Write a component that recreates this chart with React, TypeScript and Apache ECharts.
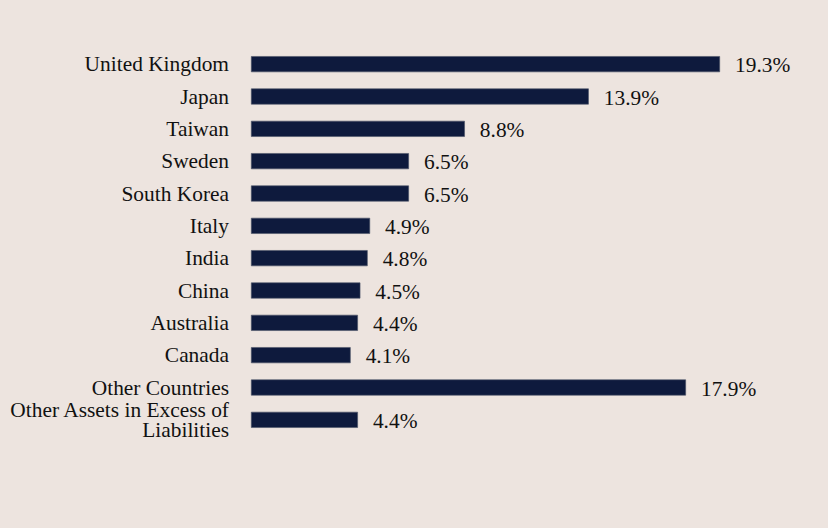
import React, { useEffect, useRef } from "react";
import * as echarts from "echarts";

const categories = [
  "United Kingdom",
  "Japan",
  "Taiwan",
  "Sweden",
  "South Korea",
  "Italy",
  "India",
  "China",
  "Australia",
  "Canada",
  "Other Countries",
  "Other Assets in Excess of\nLiabilities",
];

const weights = [19.3, 13.9, 8.8, 6.5, 6.5, 4.9, 4.8, 4.5, 4.4, 4.1, 17.9, 4.4];

const FONT = "Liberation Serif";

export default function App() {
  const ref = useRef<HTMLDivElement>(null);

  useEffect(() => {
    if (!ref.current) return;
    document.body.style.margin = "0";
    const chart = echarts.init(ref.current, null, { renderer: "svg" });
    chart.setOption({
      animation: false,
      backgroundColor: "#ede4df",
      grid: { left: 251, right: 91, top: 48, bottom: 92, containLabel: false },
      xAxis: {
        type: "value",
        min: 0,
        max: 20,
        show: false,
      },
      yAxis: {
        type: "category",
        data: categories,
        inverse: true,
        axisLine: { show: false },
        axisTick: { show: false },
        splitLine: { show: false },
        axisLabel: {
          color: "#111111",
          fontFamily: FONT,
          fontSize: 21.4,
          lineHeight: 20.5,
          margin: 22,
          align: "right",
        },
      },
      series: [
        {
          type: "bar",
          data: weights,
          barWidth: 16,
          itemStyle: {
            color: "#0e1a3d",
            borderColor: "#4a5266",
            borderWidth: 0.6,
          },
          label: {
            show: true,
            position: "right",
            distance: 15,
            offset: [0, 1],
            formatter: (p: any) => `${p.value.toFixed(1)}%`,
            color: "#111111",
            fontFamily: FONT,
            fontSize: 21.4,
          },
        },
      ],
    });
    return () => chart.dispose();
  }, []);

  return (
    <div
      ref={ref}
      style={{ position: "absolute", left: 0, top: 0, width: 828, height: 528 }}
    />
  );
}
